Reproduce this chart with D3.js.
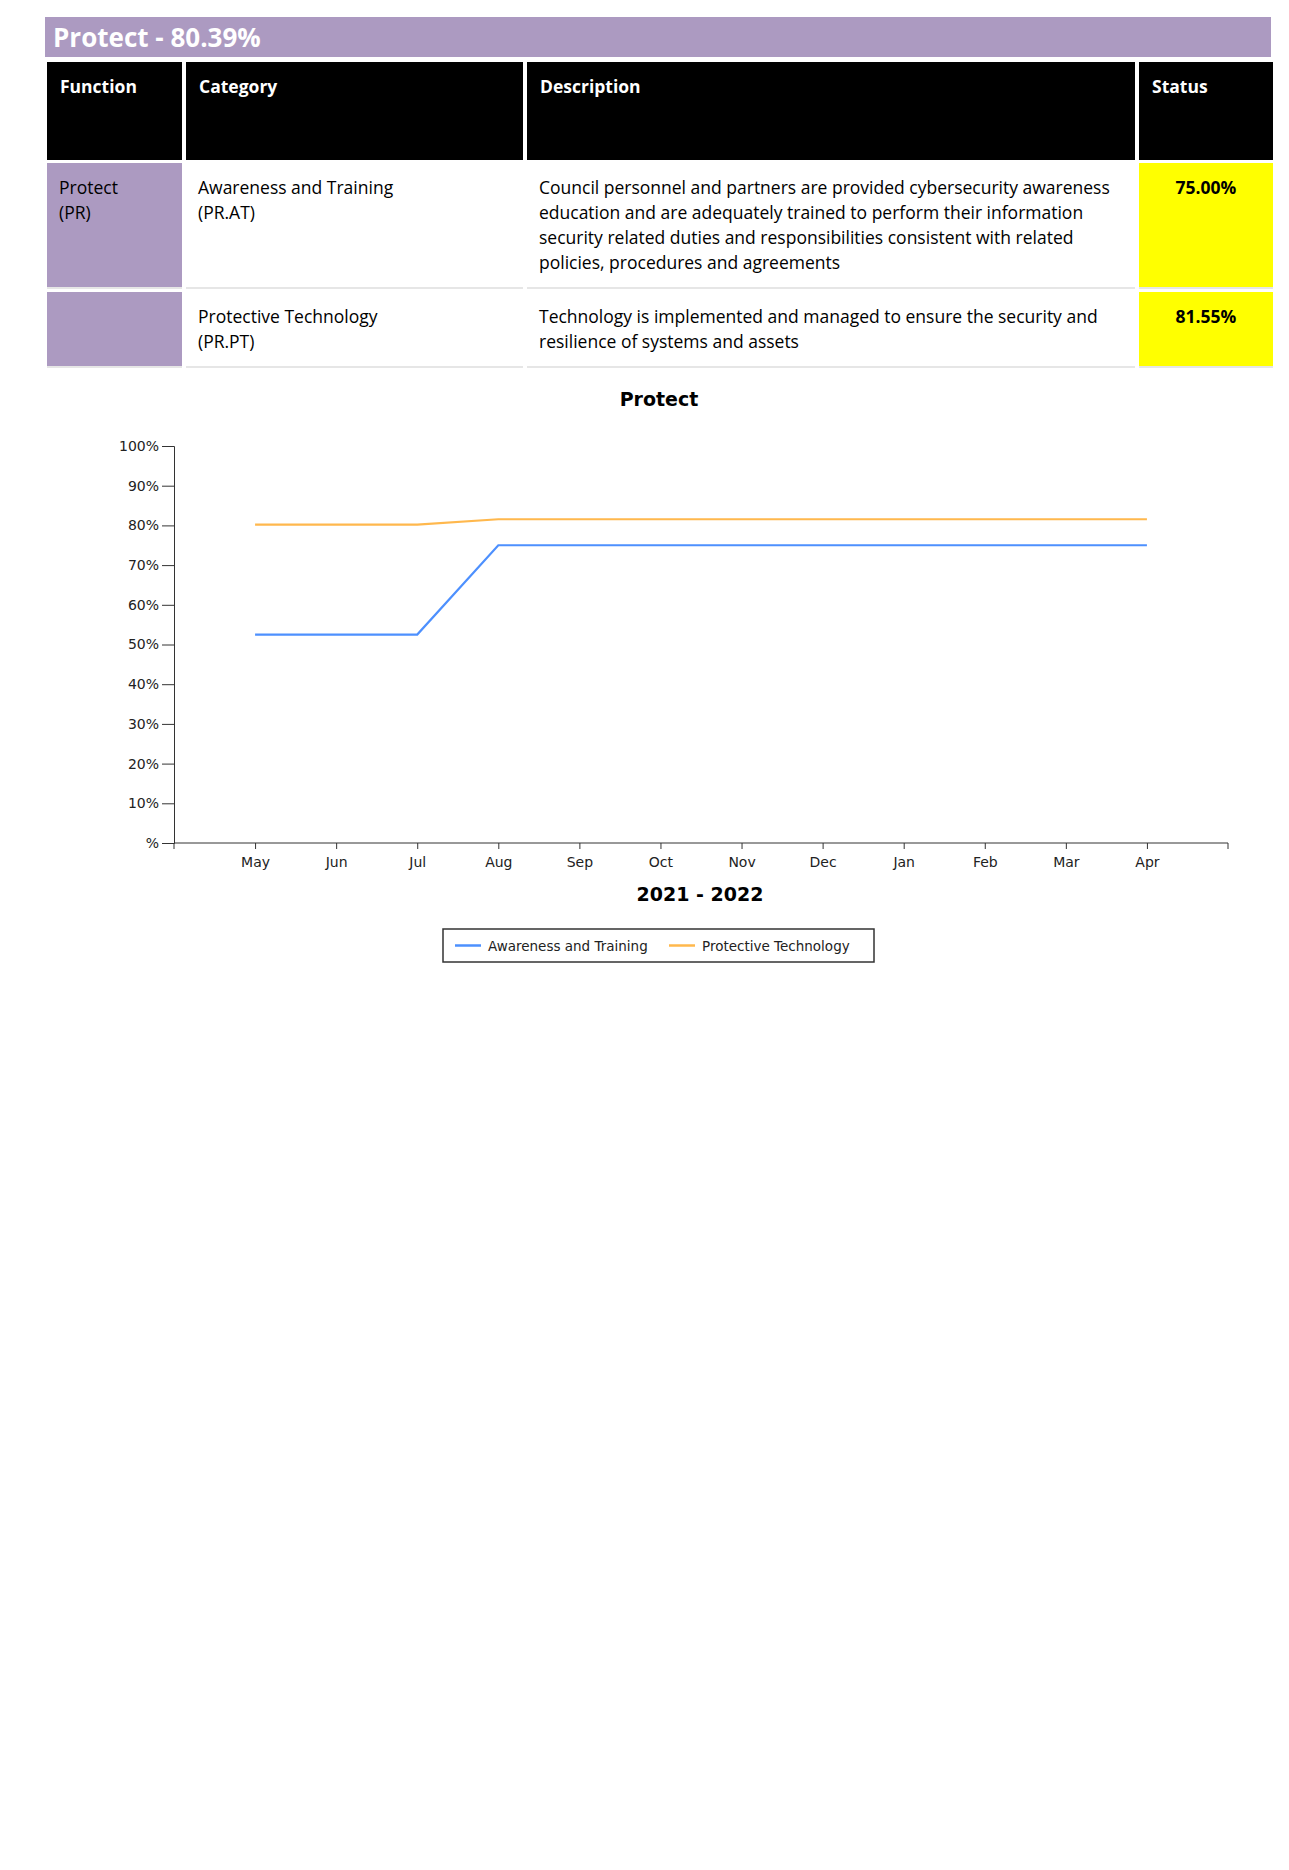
<!DOCTYPE html>
<html>
<head>
<meta charset="utf-8">
<script src="https://cdn.jsdelivr.net/npm/d3@7"></script>
<style>
  body { margin: 0; background: #fff; font-family: "Open Sans", sans-serif; }
  .bar { position: absolute; left: 45px; top: 17px; width: 1226px; height: 40px; background: #ac9ac1;
         color: #fff; font-weight: bold; font-size: 26px; line-height: 40px; padding-left: 8px; box-sizing: border-box; }
  table { position: absolute; left: 43px; top: 59px; border-collapse: separate; border-spacing: 4px 3px; font-size: 17.5px; }
  th { background: #000; color: #fff; text-align: left; vertical-align: top; padding: 12px 13px; height: 74px; }
  td { vertical-align: top; padding: 12px 12px; line-height: 25px; border-bottom: 2px solid #e6e6e6; }
  td.fn { background: #ac9ac1; }
  td.st { background: #ffff00; font-weight: bold; text-align: center; }
  svg { position: absolute; left: 0; top: 370px; }
  svg text { font-family: "DejaVu Sans", sans-serif; }
</style>
</head>
<body>
<div class="bar">Protect - 80.39%</div>
<table id="tbl"></table>
<svg id="chart" width="1289" height="620"></svg>
<script>
const columns = ["Function", "Category", "Description", "Status"];
const colWidths = [135, 337, 608, 134];
const rows = [
  ["Protect<br>(PR)", "Awareness and Training<br>(PR.AT)", "Council personnel and partners are provided cybersecurity awareness education and are adequately trained to perform their information security related duties and responsibilities consistent with related policies, procedures and agreements", "75.00%"],
  ["", "Protective Technology<br>(PR.PT)", "Technology is implemented and managed to ensure the security and resilience of systems and assets", "81.55%"]
];
const rowHeights = [124, 75];

const months = ["May","Jun","Jul","Aug","Sep","Oct","Nov","Dec","Jan","Feb","Mar","Apr"];
const seriesNames = ["Awareness and Training", "Protective Technology"];
const seriesColors = ["#4d90fe", "#ffb84d"];
const awareness = [52.5, 52.5, 52.5, 75, 75, 75, 75, 75, 75, 75, 75, 75];
const protective = [80.2, 80.2, 80.2, 81.55, 81.55, 81.55, 81.55, 81.55, 81.55, 81.55, 81.55, 81.55];
const yTicks = [0, 10, 20, 30, 40, 50, 60, 70, 80, 90, 100];

// table
const tbl = d3.select("#tbl");
tbl.append("tr").selectAll("th").data(columns).join("th")
  .style("width", (d, i) => (colWidths[i] - 26) + "px").text(d => d);
rows.forEach((r, ri) => {
  tbl.append("tr").style("height", rowHeights[ri] + "px").selectAll("td").data(r).join("td")
    .attr("class", (d, i) => i === 0 ? "fn" : i === 3 ? "st" : null)
    .html(d => d);
});

// chart
const svg = d3.select("#chart");
const m = { left: 174, right: 1228, top: 76, bottom: 473 };
const x = d3.scalePoint().domain(months).range([m.left, m.right]).padding(1);
const y = d3.scaleLinear().domain([0, 100]).range([m.bottom, m.top]);

svg.append("text").attr("x", 659).attr("y", 36).attr("text-anchor", "middle")
  .attr("font-weight", "bold").attr("font-size", 19).text("Protect");

const yAxis = svg.append("g").attr("transform", `translate(${m.left},0)`)
  .call(d3.axisLeft(y).tickValues(yTicks).tickSize(12).tickFormat(d => d === 0 ? "%" : d + "%"));
const xAxis = svg.append("g").attr("transform", `translate(0,${m.bottom})`)
  .call(d3.axisBottom(x).tickSize(6).tickPadding(8));
[yAxis, xAxis].forEach(a => {
  a.selectAll("text").attr("font-size", 14).attr("fill", "#222").attr("font-family", "DejaVu Sans");
  a.selectAll("line,path").attr("stroke", "#333");
});
xAxis.select(".domain").attr("d", `M${m.left},6V0H${m.right}V6`);

svg.append("text").attr("x", 700).attr("y", 531).attr("text-anchor", "middle")
  .attr("font-weight", "bold").attr("font-size", 19).attr("font-family", "DejaVu Serif").text("2021 - 2022");

const line = d3.line().x((d, i) => x(months[i])).y(d => y(d));
[awareness, protective].forEach((s, i) => {
  svg.append("path").attr("d", line(s)).attr("fill", "none")
    .attr("stroke", seriesColors[i]).attr("stroke-width", 2.2);
});

// legend
const lg = svg.append("g").attr("transform", "translate(443,559)");
lg.append("rect").attr("width", 431).attr("height", 33).attr("fill", "#fff")
  .attr("stroke", "#333").attr("stroke-width", 1.5);
const lx = [12, 226];
seriesNames.forEach((n, i) => {
  lg.append("line").attr("x1", lx[i]).attr("x2", lx[i] + 26).attr("y1", 16.5).attr("y2", 16.5)
    .attr("stroke", seriesColors[i]).attr("stroke-width", 2.5);
  lg.append("text").attr("x", lx[i] + 33).attr("y", 21.5).attr("font-size", 13.5)
    .attr("fill", "#222").text(n);
});
</script>
</body>
</html>
